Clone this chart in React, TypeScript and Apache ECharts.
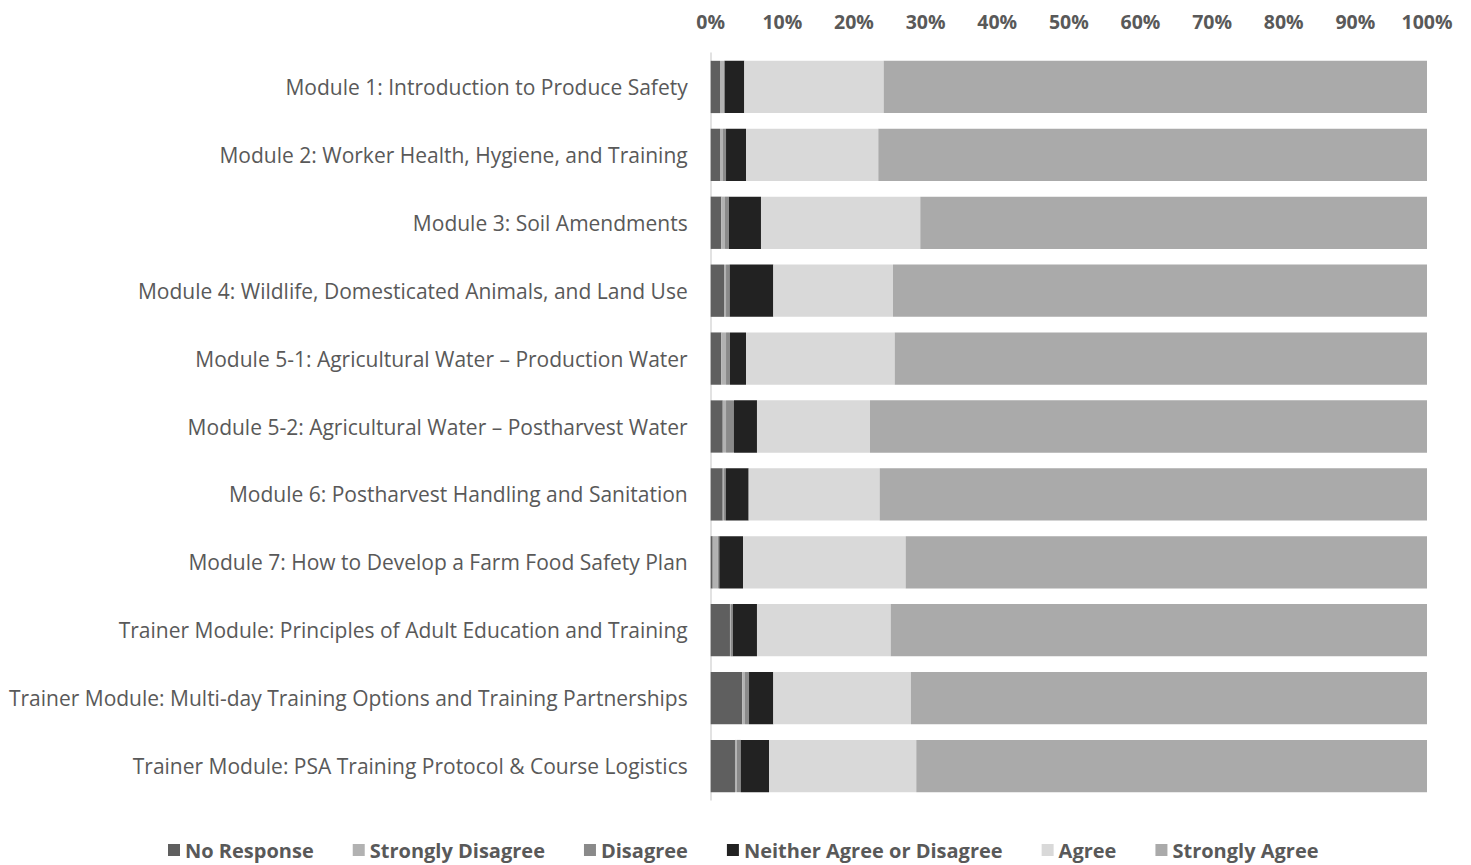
import React, { useEffect, useRef } from "react";
import * as echarts from "echarts";

const categories = [
  "Module 1: Introduction to Produce Safety",
  "Module 2: Worker Health, Hygiene, and Training",
  "Module 3: Soil Amendments",
  "Module 4: Wildlife, Domesticated Animals, and Land Use",
  "Module 5-1: Agricultural Water – Production Water",
  "Module 5-2: Agricultural Water – Postharvest Water",
  "Module 6: Postharvest Handling and Sanitation",
  "Module 7: How to Develop a Farm Food Safety Plan",
  "Trainer Module: Principles of Adult Education and Training",
  "Trainer Module: Multi-day Training Options and Training Partnerships",
  "Trainer Module: PSA Training Protocol & Course Logistics",
];

const noResponse = [1.3, 1.3, 1.48, 1.86, 1.48, 1.68, 1.68, 0.28, 2.69, 4.41, 3.39];
const stronglyDisagree = [0.56, 0.42, 0.52, 0.28, 0.66, 0.46, 0.18, 0.7, 0.1, 0.38, 0.24];
const disagree = [0.09, 0.42, 0.55, 0.51, 0.55, 1.11, 0.23, 0.22, 0.32, 0.56, 0.56];
const neither = [2.74, 2.79, 4.47, 6.09, 2.24, 3.21, 3.21, 3.31, 3.35, 3.39, 3.95];
const agree = [19.46, 18.47, 22.24, 16.71, 20.76, 15.78, 18.29, 22.71, 18.67, 19.22, 20.56];
const stronglyAgree = [75.85, 76.6, 70.74, 74.55, 74.31, 77.76, 76.41, 72.78, 74.87, 72.04, 71.3];

const seriesNames = [
  "No Response",
  "Strongly Disagree",
  "Disagree",
  "Neither Agree or Disagree",
  "Agree",
  "Strongly Agree",
];
const seriesData = [noResponse, stronglyDisagree, disagree, neither, agree, stronglyAgree];
const colors = ["#5f5f5f", "#b2b2b2", "#8a8a8a", "#222222", "#d9d9d9", "#aaaaaa"];

export default function App() {
  const ref = useRef<HTMLDivElement>(null);
  useEffect(() => {
    if (!ref.current) return;
    const chart = echarts.init(ref.current, null, { renderer: "svg" });
    chart.setOption({
      animation: false,
      color: colors,
      grid: { left: 710.7, right: 44, top: 53, bottom: 65, containLabel: false },
      legend: {
        top: 840,
        left: 168,
        itemWidth: 12,
        itemHeight: 12,
        itemGap: 39,
        padding: 0,
        icon: "rect",
        textStyle: {
          fontFamily: "Open Sans",
          fontWeight: "bold",
          fontSize: 20,
          lineHeight: 20,
          color: "#595959",
        },
        data: seriesNames,
      },
      xAxis: {
        type: "value",
        position: "top",
        min: 0,
        max: 100,
        interval: 10,
        axisLine: { show: false },
        axisTick: { show: false },
        splitLine: { show: false },
        axisLabel: {
          formatter: "{value}%",
          fontFamily: "Open Sans",
          fontWeight: "bold",
          fontSize: 19.5,
          color: "#595959",
          margin: 22,
        },
      },
      yAxis: {
        type: "category",
        inverse: true,
        data: categories,
        axisLine: { show: true, lineStyle: { color: "#d9d9d9", width: 1.5 } },
        axisTick: { show: false },
        axisLabel: {
          fontFamily: "Open Sans",
          fontSize: 21,
          color: "#595959",
          margin: 23,
        },
      },
      series: seriesNames.map((name, i) => ({
        name,
        type: "bar",
        stack: "total",
        barCategoryGap: "23%",
        data: seriesData[i],
        itemStyle: { color: colors[i] },
      })),
    });
    return () => chart.dispose();
  }, []);
  return (
    <div
      ref={ref}
      style={{ position: "absolute", top: 0, left: 0, width: 1471, height: 865 }}
    />
  );
}
